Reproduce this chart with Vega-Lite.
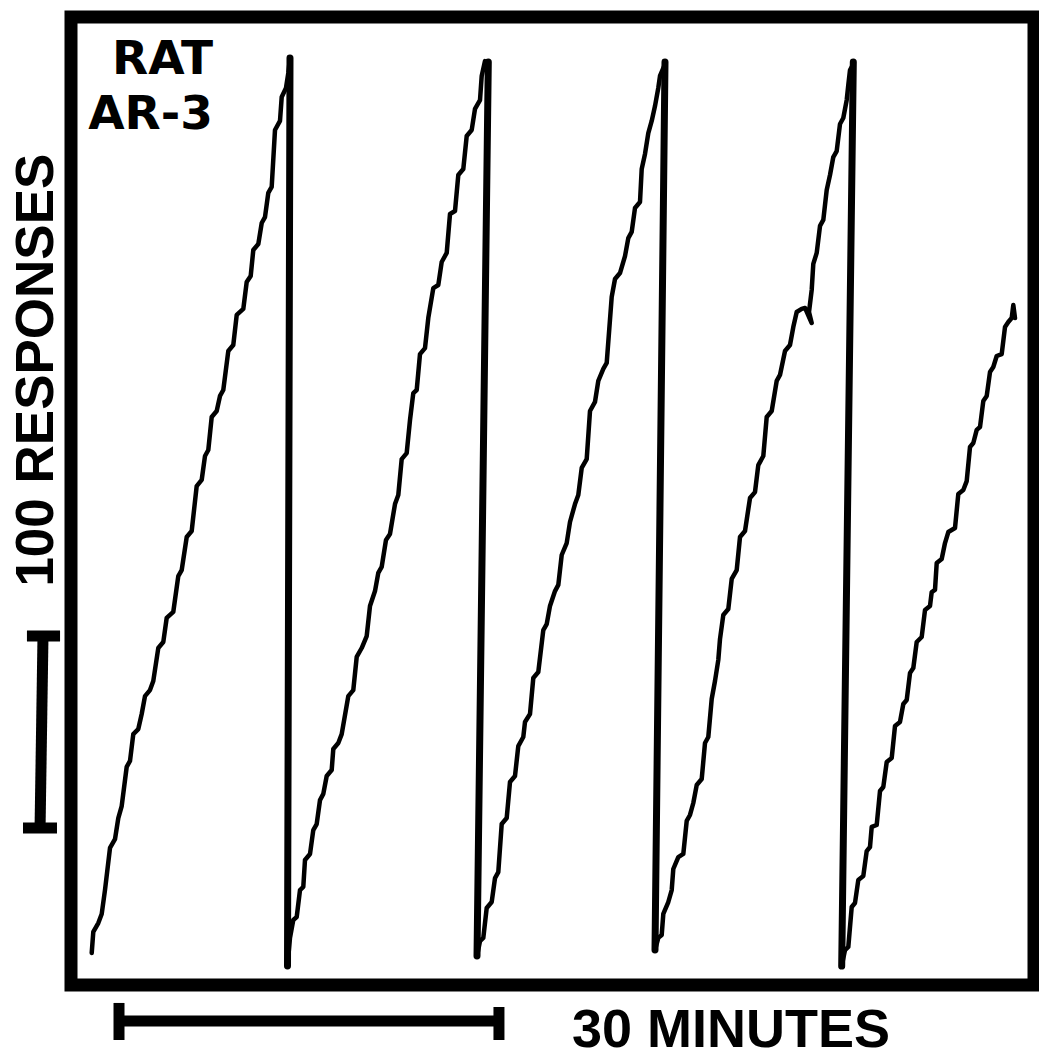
{
  "$schema": "https://vega.github.io/schema/vega-lite/v6.json",
  "width": 963,
  "height": 968,
  "autosize": {"type": "none"},
  "padding": {"left": 71, "top": 17, "right": 5, "bottom": 75},
  "background": "white",
  "config": {"view": {"stroke": "black", "strokeWidth": 13}},
  "datasets": {
    "trace": [
      {"segment":1,"minutes":1.626,"responses":16.6},{"segment":1,"minutes":1.751,"responses":27.5},{"segment":1,"minutes":2.144,"responses":32.1},{"segment":1,"minutes":2.411,"responses":36.8},{"segment":1,"minutes":2.670,"responses":49.2},{"segment":1,"minutes":3.063,"responses":71.0},{"segment":1,"minutes":3.456,"responses":75.6},{"segment":1,"minutes":3.715,"responses":86.5},{"segment":1,"minutes":3.982,"responses":92.7},{"segment":1,"minutes":4.374,"responses":113.0},{"segment":1,"minutes":4.634,"responses":116.1},{"segment":1,"minutes":4.893,"responses":130.0},{"segment":1,"minutes":5.285,"responses":132.6},{"segment":1,"minutes":5.552,"responses":140.4},{"segment":1,"minutes":5.812,"responses":149.7},{"segment":1,"minutes":6.204,"responses":152.8},{"segment":1,"minutes":6.463,"responses":157.5},{"segment":1,"minutes":6.856,"responses":174.6},{"segment":1,"minutes":7.249,"responses":177.7},{"segment":1,"minutes":7.516,"responses":190.2},{"segment":1,"minutes":8.034,"responses":193.3},{"segment":1,"minutes":8.427,"responses":211.9},{"segment":1,"minutes":8.694,"responses":215.0},{"segment":1,"minutes":9.087,"responses":232.1},{"segment":1,"minutes":9.479,"responses":235.2},{"segment":1,"minutes":9.872,"responses":258.5},{"segment":1,"minutes":10.265,"responses":261.7},{"segment":1,"minutes":10.524,"responses":274.1},{"segment":1,"minutes":10.783,"responses":277.2},{"segment":1,"minutes":11.050,"responses":294.3},{"segment":1,"minutes":11.443,"responses":297.4},{"segment":1,"minutes":11.702,"responses":305.2},{"segment":1,"minutes":11.961,"responses":308.3},{"segment":1,"minutes":12.354,"responses":328.5},{"segment":1,"minutes":12.746,"responses":331.6},{"segment":1,"minutes":13.014,"responses":347.2},{"segment":1,"minutes":13.532,"responses":350.3},{"segment":1,"minutes":13.799,"responses":364.2},{"segment":1,"minutes":14.113,"responses":367.4},{"segment":1,"minutes":14.317,"responses":380.8},{"segment":1,"minutes":14.710,"responses":383.9},{"segment":1,"minutes":14.977,"responses":394.8},{"segment":1,"minutes":15.236,"responses":397.9},{"segment":1,"minutes":15.495,"responses":410.4},{"segment":1,"minutes":15.762,"responses":413.5},{"segment":1,"minutes":16.021,"responses":443.0},{"segment":1,"minutes":16.414,"responses":447.7},{"segment":1,"minutes":16.548,"responses":460.1},{"segment":1,"minutes":16.885,"responses":464.8},{"segment":1,"minutes":17.066,"responses":472.5},{"segment":1,"minutes":17.199,"responses":480.3},
      {"segment":2,"minutes":17.003,"responses":9.8},{"segment":2,"minutes":17.199,"responses":24.4},{"segment":2,"minutes":17.458,"responses":33.7},{"segment":2,"minutes":17.726,"responses":35.2},{"segment":2,"minutes":17.985,"responses":49.2},{"segment":2,"minutes":18.244,"responses":50.8},{"segment":2,"minutes":18.377,"responses":64.8},{"segment":2,"minutes":18.770,"responses":67.9},{"segment":2,"minutes":19.029,"responses":80.3},{"segment":2,"minutes":19.296,"responses":83.4},{"segment":2,"minutes":19.555,"responses":95.8},{"segment":2,"minutes":19.815,"responses":99.0},{"segment":2,"minutes":20.082,"responses":108.3},{"segment":2,"minutes":20.474,"responses":111.4},{"segment":2,"minutes":20.600,"responses":122.3},{"segment":2,"minutes":20.993,"responses":125.4},{"segment":2,"minutes":21.260,"responses":130.0},{"segment":2,"minutes":21.778,"responses":149.7},{"segment":2,"minutes":22.171,"responses":152.8},{"segment":2,"minutes":22.438,"responses":170.0},{"segment":2,"minutes":22.831,"responses":174.6},{"segment":2,"minutes":23.223,"responses":180.8},{"segment":2,"minutes":23.482,"responses":196.4},{"segment":2,"minutes":23.875,"responses":204.1},{"segment":2,"minutes":24.134,"responses":213.5},{"segment":2,"minutes":24.401,"responses":216.6},{"segment":2,"minutes":24.739,"responses":230.6},{"segment":2,"minutes":25.053,"responses":233.7},{"segment":2,"minutes":25.446,"responses":249.2},{"segment":2,"minutes":25.705,"responses":253.9},{"segment":2,"minutes":25.972,"responses":272.5},{"segment":2,"minutes":26.364,"responses":275.6},{"segment":2,"minutes":26.624,"responses":292.7},{"segment":2,"minutes":26.883,"responses":306.7},{"segment":2,"minutes":27.150,"responses":308.3},{"segment":2,"minutes":27.409,"responses":326.9},{"segment":2,"minutes":27.802,"responses":330.0},{"segment":2,"minutes":28.061,"responses":345.6},{"segment":2,"minutes":28.454,"responses":361.1},{"segment":2,"minutes":28.846,"responses":362.7},{"segment":2,"minutes":29.113,"responses":374.6},{"segment":2,"minutes":29.506,"responses":379.3},{"segment":2,"minutes":29.765,"responses":399.5},{"segment":2,"minutes":30.158,"responses":401.0},{"segment":2,"minutes":30.417,"responses":419.7},{"segment":2,"minutes":30.810,"responses":422.8},{"segment":2,"minutes":31.077,"responses":439.9},{"segment":2,"minutes":31.469,"responses":443.0},{"segment":2,"minutes":31.729,"responses":453.9},{"segment":2,"minutes":32.122,"responses":458.5},{"segment":2,"minutes":32.255,"responses":471.0},{"segment":2,"minutes":32.514,"responses":478.7},{"segment":2,"minutes":32.773,"responses":477.2},
      {"segment":3,"minutes":31.886,"responses":15.0},{"segment":3,"minutes":32.122,"responses":22.8},{"segment":3,"minutes":32.380,"responses":24.4},{"segment":3,"minutes":32.647,"responses":39.9},{"segment":3,"minutes":33.040,"responses":43.0},{"segment":3,"minutes":33.299,"responses":55.4},{"segment":3,"minutes":33.558,"responses":58.5},{"segment":3,"minutes":33.825,"responses":83.4},{"segment":3,"minutes":34.218,"responses":86.5},{"segment":3,"minutes":34.477,"responses":105.2},{"segment":3,"minutes":34.870,"responses":108.3},{"segment":3,"minutes":35.129,"responses":123.8},{"segment":3,"minutes":35.522,"responses":128.5},{"segment":3,"minutes":35.655,"responses":136.3},{"segment":3,"minutes":36.048,"responses":140.4},{"segment":3,"minutes":36.307,"responses":159.1},{"segment":3,"minutes":36.700,"responses":162.2},{"segment":3,"minutes":37.093,"responses":183.9},{"segment":3,"minutes":37.360,"responses":187.0},{"segment":3,"minutes":37.619,"responses":196.4},{"segment":3,"minutes":38.012,"responses":204.1},{"segment":3,"minutes":38.271,"responses":207.3},{"segment":3,"minutes":38.538,"responses":222.8},{"segment":3,"minutes":38.930,"responses":229.0},{"segment":3,"minutes":39.189,"responses":239.9},{"segment":3,"minutes":39.582,"responses":249.2},{"segment":3,"minutes":39.841,"responses":253.9},{"segment":3,"minutes":40.109,"responses":267.9},{"segment":3,"minutes":40.501,"responses":272.5},{"segment":3,"minutes":40.760,"responses":297.4},{"segment":3,"minutes":41.153,"responses":302.1},{"segment":3,"minutes":41.412,"responses":313.0},{"segment":3,"minutes":41.805,"responses":319.2},{"segment":3,"minutes":42.072,"responses":322.3},{"segment":3,"minutes":42.465,"responses":356.5},{"segment":3,"minutes":42.724,"responses":365.8},{"segment":3,"minutes":43.116,"responses":368.9},{"segment":3,"minutes":43.509,"responses":377.7},{"segment":3,"minutes":43.768,"responses":387.0},{"segment":3,"minutes":44.035,"responses":390.2},{"segment":3,"minutes":44.294,"responses":402.6},{"segment":3,"minutes":44.687,"responses":405.7},{"segment":3,"minutes":44.821,"responses":422.8},{"segment":3,"minutes":45.080,"responses":430.6},{"segment":3,"minutes":45.339,"responses":441.4},{"segment":3,"minutes":45.606,"responses":447.7},{"segment":3,"minutes":45.865,"responses":455.4},{"segment":3,"minutes":46.124,"responses":464.8},{"segment":3,"minutes":46.257,"responses":471.0},{"segment":3,"minutes":46.650,"responses":477.2},
      {"segment":4,"minutes":45.865,"responses":18.1},{"segment":4,"minutes":46.124,"responses":24.4},{"segment":4,"minutes":46.391,"responses":25.9},{"segment":4,"minutes":46.517,"responses":36.8},{"segment":4,"minutes":46.910,"responses":43.0},{"segment":4,"minutes":47.177,"responses":49.2},{"segment":4,"minutes":47.302,"responses":60.1},{"segment":4,"minutes":47.695,"responses":66.3},{"segment":4,"minutes":48.088,"responses":67.9},{"segment":4,"minutes":48.355,"responses":85.0},{"segment":4,"minutes":48.614,"responses":88.1},{"segment":4,"minutes":48.873,"responses":94.3},{"segment":4,"minutes":49.140,"responses":103.6},{"segment":4,"minutes":49.533,"responses":106.7},{"segment":4,"minutes":49.792,"responses":125.4},{"segment":4,"minutes":50.051,"responses":128.5},{"segment":4,"minutes":50.318,"responses":148.2},{"segment":4,"minutes":50.577,"responses":157.5},{"segment":4,"minutes":50.836,"responses":168.4},{"segment":4,"minutes":50.970,"responses":179.3},{"segment":4,"minutes":51.229,"responses":191.7},{"segment":4,"minutes":51.622,"responses":194.8},{"segment":4,"minutes":51.889,"responses":210.4},{"segment":4,"minutes":52.282,"responses":215.0},{"segment":4,"minutes":52.541,"responses":232.1},{"segment":4,"minutes":52.933,"responses":235.2},{"segment":4,"minutes":53.326,"responses":252.3},{"segment":4,"minutes":53.719,"responses":255.4},{"segment":4,"minutes":53.978,"responses":269.4},{"segment":4,"minutes":54.371,"responses":274.1},{"segment":4,"minutes":54.638,"responses":294.3},{"segment":4,"minutes":55.030,"responses":297.4},{"segment":4,"minutes":55.423,"responses":313.0},{"segment":4,"minutes":55.682,"responses":316.1},{"segment":4,"minutes":56.075,"responses":328.5},{"segment":4,"minutes":56.467,"responses":331.6},{"segment":4,"minutes":56.726,"responses":340.9},{"segment":4,"minutes":56.994,"responses":348.7},{"segment":4,"minutes":57.386,"responses":350.3},{"segment":4,"minutes":57.645,"responses":350.8},{"segment":4,"minutes":58.171,"responses":343.0},{"segment":4,"minutes":57.960,"responses":348.7},{"segment":4,"minutes":58.171,"responses":360.1},{"segment":4,"minutes":58.297,"responses":373.6},{"segment":4,"minutes":58.564,"responses":379.3},{"segment":4,"minutes":58.824,"responses":393.3},{"segment":4,"minutes":59.083,"responses":396.4},{"segment":4,"minutes":59.350,"responses":411.9},{"segment":4,"minutes":59.609,"responses":419.7},{"segment":4,"minutes":59.868,"responses":429.0},{"segment":4,"minutes":60.135,"responses":432.1},{"segment":4,"minutes":60.394,"responses":446.1},{"segment":4,"minutes":60.653,"responses":449.2},{"segment":4,"minutes":60.920,"responses":458.5},{"segment":4,"minutes":61.046,"responses":466.3},{"segment":4,"minutes":61.180,"responses":474.1},{"segment":4,"minutes":61.439,"responses":477.2},
      {"segment":5,"minutes":60.527,"responses":9.8},{"segment":5,"minutes":60.787,"responses":18.1},{"segment":5,"minutes":61.046,"responses":19.7},{"segment":5,"minutes":61.313,"responses":40.4},{"segment":5,"minutes":61.572,"responses":42.5},{"segment":5,"minutes":61.831,"responses":54.4},{"segment":5,"minutes":62.224,"responses":56.5},{"segment":5,"minutes":62.491,"responses":69.4},{"segment":5,"minutes":62.750,"responses":71.5},{"segment":5,"minutes":62.884,"responses":81.9},{"segment":5,"minutes":63.276,"responses":82.9},{"segment":5,"minutes":63.536,"responses":100.5},{"segment":5,"minutes":63.795,"responses":102.6},{"segment":5,"minutes":64.062,"responses":115.5},{"segment":5,"minutes":64.455,"responses":117.6},{"segment":5,"minutes":64.714,"responses":134.2},{"segment":5,"minutes":65.106,"responses":136.3},{"segment":5,"minutes":65.366,"responses":145.6},{"segment":5,"minutes":65.633,"responses":147.7},{"segment":5,"minutes":65.892,"responses":161.7},{"segment":5,"minutes":66.151,"responses":164.2},{"segment":5,"minutes":66.418,"responses":177.7},{"segment":5,"minutes":66.811,"responses":180.3},{"segment":5,"minutes":67.070,"responses":194.3},{"segment":5,"minutes":67.463,"responses":196.4},{"segment":5,"minutes":67.596,"responses":203.6},{"segment":5,"minutes":67.855,"responses":204.7},{"segment":5,"minutes":67.989,"responses":218.6},{"segment":5,"minutes":68.381,"responses":220.7},{"segment":5,"minutes":68.640,"responses":229.0},{"segment":5,"minutes":68.900,"responses":234.7},{"segment":5,"minutes":69.426,"responses":236.8},{"segment":5,"minutes":69.685,"responses":254.4},{"segment":5,"minutes":70.078,"responses":256.5},{"segment":5,"minutes":70.345,"responses":261.1},{"segment":5,"minutes":70.604,"responses":278.8},{"segment":5,"minutes":70.864,"responses":280.8},{"segment":5,"minutes":71.131,"responses":287.6},{"segment":5,"minutes":71.390,"responses":289.1},{"segment":5,"minutes":71.649,"responses":302.6},{"segment":5,"minutes":71.916,"responses":305.2},{"segment":5,"minutes":72.175,"responses":317.6},{"segment":5,"minutes":72.434,"responses":320.2},{"segment":5,"minutes":72.701,"responses":325.9},{"segment":5,"minutes":73.094,"responses":326.9},{"segment":5,"minutes":73.353,"responses":340.9},{"segment":5,"minutes":73.612,"responses":343.5},{"segment":5,"minutes":73.879,"responses":345.6},{"segment":5,"minutes":74.005,"responses":352.3},{"segment":5,"minutes":74.138,"responses":345.6}
    ],
    "resets": [
      {"minutes":17.199,"responses":480.3,"minutes2":17.003,"responses2":9.8},
      {"minutes":32.773,"responses":478.2,"minutes2":31.886,"responses2":15.0},
      {"minutes":46.650,"responses":478.2,"minutes2":45.865,"responses2":18.1},
      {"minutes":61.439,"responses":478.2,"minutes2":60.527,"responses2":9.8}
    ],
    "scalebars": [
      {"part":"100 responses bar","minutes":-2.20,"responses":180.8,"minutes2":-2.43,"responses2":81.3},
      {"part":"100 responses top cap","minutes":-3.46,"responses":180.8,"minutes2":-0.86,"responses2":180.8},
      {"part":"100 responses bottom cap","minutes":-3.77,"responses":81.3,"minutes2":-1.10,"responses2":81.3},
      {"part":"30 minutes bar","minutes":3.77,"responses":-18.65,"minutes2":33.61,"responses2":-18.65},
      {"part":"30 minutes left cap","minutes":3.77,"responses":-9.3,"minutes2":3.77,"responses2":-28.5},
      {"part":"30 minutes right cap","minutes":33.61,"responses":-11.4,"minutes2":33.61,"responses2":-28.5}
    ]
  },
  "encoding": {
    "x": {"field": "minutes", "type": "quantitative", "scale": {"domain": [0, 75.63], "nice": false, "zero": false}, "axis": null},
    "y": {"field": "responses", "type": "quantitative", "scale": {"domain": [0, 501.55], "nice": false, "zero": false}, "axis": null}
  },
  "layer": [
    {
      "data": {"name": "trace"},
      "mark": {"type": "line", "stroke": "black", "strokeWidth": 4.5, "strokeCap": "round", "strokeJoin": "round"},
      "encoding": {"detail": {"field": "segment", "type": "nominal"}, "order": {"value": null}}
    },
    {
      "data": {"name": "resets"},
      "mark": {"type": "rule", "stroke": "black", "strokeWidth": 7, "strokeCap": "round"},
      "encoding": {"x2": {"field": "minutes2"}, "y2": {"field": "responses2"}}
    },
    {
      "data": {"name": "scalebars"},
      "mark": {"type": "rule", "stroke": "black", "strokeWidth": 11, "strokeCap": "butt"},
      "encoding": {"x2": {"field": "minutes2"}, "y2": {"field": "responses2"}}
    },
    {
      "data": {"values": [{"label": "RAT\nAR-3", "minutes": 11.15, "responses": 472.0}]},
      "mark": {"type": "text", "font": "DejaVu Sans", "fontWeight": "bold", "fontSize": 47, "lineBreak": "\n", "lineHeight": 55, "align": "right", "baseline": "alphabetic", "color": "black"},
      "encoding": {"text": {"field": "label"}}
    },
    {
      "data": {"values": [{"label": "100 RESPONSES", "minutes": -1.45, "responses": 318.6}]},
      "mark": {"type": "text", "font": "Liberation Sans", "fontWeight": "bold", "fontSize": 53, "angle": 270, "align": "center", "baseline": "alphabetic", "color": "black"},
      "encoding": {"text": {"field": "label"}}
    },
    {
      "data": {"values": [{"label": "30 MINUTES", "minutes": 39.35, "responses": -32.1}]},
      "mark": {"type": "text", "font": "Liberation Sans", "fontWeight": "bold", "fontSize": 54, "align": "left", "baseline": "alphabetic", "color": "black"},
      "encoding": {"text": {"field": "label"}}
    }
  ]
}
